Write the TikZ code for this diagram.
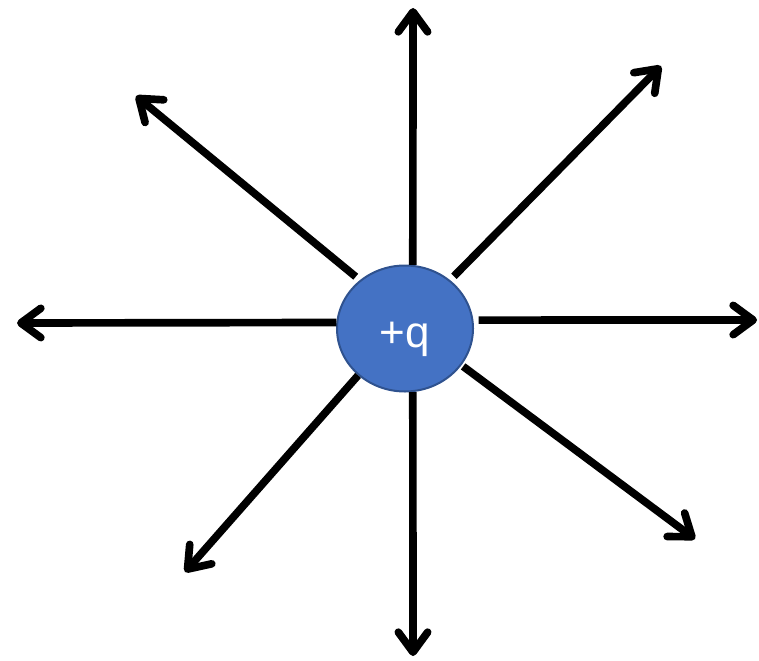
\documentclass[tikz,border=0pt]{standalone}
\usepackage{fontspec}
\newfontfamily\chargefont{Liberation Sans}
\usetikzlibrary{arrows.meta,shapes.geometric}
\definecolor{chargeblue}{HTML}{4472C4}
\definecolor{chargeedge}{HTML}{2F528F}
\tikzset{
  fieldline/.style={line width=5.75pt, -{Straight Barb[length=15pt, width=22pt, round]}},
  charge/.style={ellipse, fill=chargeblue, draw=chargeedge, line width=1.5pt,
    minimum width=102pt, minimum height=94.5pt, inner sep=0pt,
    text height=27.75pt, text depth=0pt,
    text=white, font=\chargefont\fontsize{33}{33}\selectfont}
}
\begin{document}
\begin{tikzpicture}[x=0.75pt, y=-0.75pt]
    \useasboundingbox (0,0) rectangle (759,660);
    \coordinate (n) at (413,8);
    \coordinate (ne) at (661,66);
    \coordinate (e) at (757,320);
    \coordinate (se) at (695,539);
    \coordinate (s) at (413,656);
    \coordinate (sw) at (185,572);
    \coordinate (w) at (17,323);
    \coordinate (nw) at (136,96);
    \node[charge] (q) at (405,328.5) {+q};
    \draw[fieldline] (q.83) -- (n);
    \draw[fieldline, shorten <=4pt] (q.47) -- (ne);
    \draw[fieldline, shorten <=4pt] (q.7) -- (e);
    \draw[fieldline, shorten <=1.5pt] (q.-33) -- (se);
    \draw[fieldline] (q.-83) -- (s);
    \draw[fieldline] (q.225) -- (sw);
    \draw[fieldline] (q.175) -- (w);
    \draw[fieldline, shorten <=4pt] (q.133) -- (nw);
\end{tikzpicture}
\end{document}
